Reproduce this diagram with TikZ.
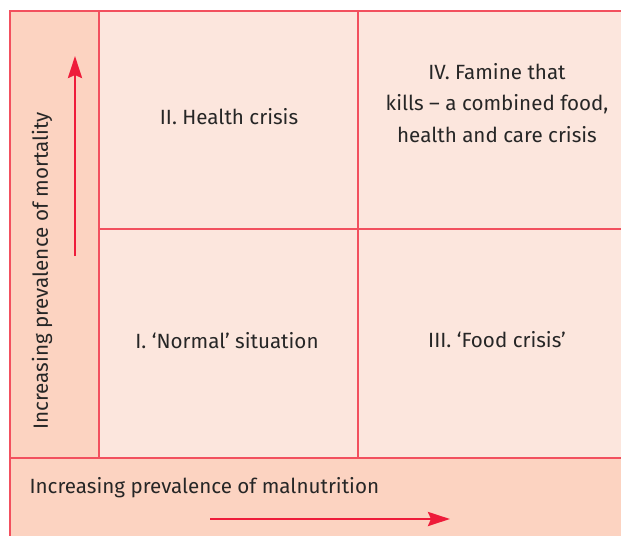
\documentclass[tikz,border=0pt]{standalone}
\usepackage{fontspec}
\setmainfont{Fira Sans}
\definecolor{stripfill}{HTML}{FCD3C1}
\definecolor{cellfill}{HTML}{FCE6DD}
\definecolor{gridred}{HTML}{F2505E}
\definecolor{arrowred}{HTML}{EE1C3A}
\definecolor{textgray}{HTML}{262626}
\tikzset{
  gridline/.style={draw=gridred, line width=1.2pt},
  celltext/.style={font=\fontsize{20.6}{31.5}\selectfont, text=textgray, align=center},
  trendarrow/.style={draw=arrowred, line width=2.8pt, -{Stealth[length=22pt,width=14pt,inset=3pt]}}
}
\usetikzlibrary{arrows.meta}
\begin{document}
\begin{tikzpicture}[x=1pt,y=-1pt]
\useasboundingbox (0,0) rectangle (621,536);

% Backgrounds of the axis strips and the four cells
\fill[stripfill] (10,11) rectangle (621,536);
\fill[cellfill] (99,11) rectangle (621,458);

% Frame and dividers
\draw[gridline] (621,11) -- (10,11) -- (10,536);
\draw[gridline] (99,11) -- (99,458);
\draw[gridline] (358,11) -- (358,458);
\draw[gridline] (99,229) -- (621,229);
\draw[gridline] (10,458) -- (621,458);

% Quadrant labels
\node[celltext] (health) at (229,117) {II. Health crisis};
\node[celltext] (famine) at (497,103) {IV. Famine that\\kills -- a combined food,\\health and care crisis};
\node[celltext] (normal) at (227,341) {I. `Normal' situation};
\node[celltext] (food) at (497,340) {III. `Food crisis'};

% Axis labels
\node[celltext, rotate=90] (mortality) at (42,271) {Increasing prevalence of mortality};
\node[celltext, anchor=west] (malnutrition) at (26,488) {Increasing prevalence of malnutrition};

% Trend arrows
\coordinate (upstart) at (75,256);
\coordinate (upend) at (75,56);
\coordinate (rightstart) at (210,519);
\coordinate (rightend) at (450,519);
\draw[trendarrow] (upstart) -- (upend);
\draw[trendarrow] (rightstart) -- (rightend);
\end{tikzpicture}
\end{document}
